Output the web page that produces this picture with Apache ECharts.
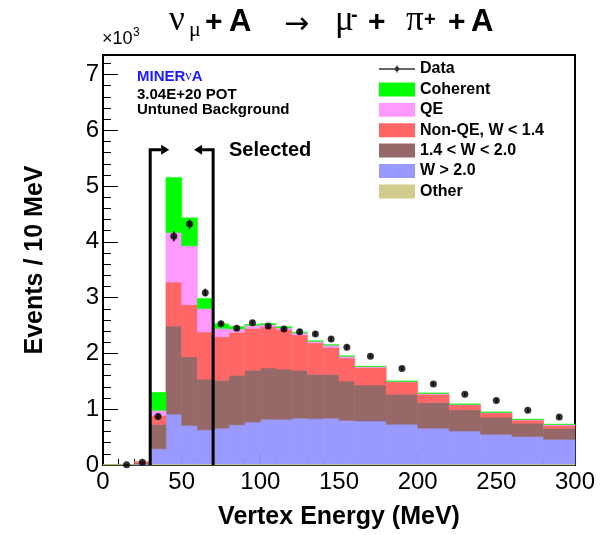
<!DOCTYPE html>
<html>
<head>
<meta charset="utf-8">
<script src="https://cdn.jsdelivr.net/npm/echarts@6/dist/echarts.min.js"></script>
<style>
html, body { margin: 0; padding: 0; background: #fff; }
#chart { width: 611px; height: 535px; }
</style>
</head>
<body>
<div id="chart"></div>
<script>
// bin edges in MeV (10 MeV bins up to 160, then 20 MeV bins)
var binEdges = [0, 10, 20, 30, 40, 50, 60, 70, 80, 90, 100, 110, 120, 130, 140, 150, 160,
                180, 200, 220, 240, 260, 280, 300];

// MC components, events / 10 MeV (x10^3), one value per bin
var other    = [0.01, 0.01, 0.01, 0.02, 0.02, 0.02, 0.02, 0.02, 0.02, 0.02, 0.02, 0.02, 0.02, 0.02, 0.02, 0.02, 0.02, 0.02, 0.02, 0.02, 0.02, 0.02, 0.02];
var wHigh    = [0, 0, 0.01, 0.27, 0.89, 0.69, 0.61, 0.64, 0.70, 0.75, 0.80, 0.80, 0.82, 0.81, 0.82, 0.78, 0.77, 0.71, 0.64, 0.59, 0.53, 0.49, 0.44];
var wMid     = [0, 0, 0.02, 0.44, 1.58, 1.23, 0.91, 0.86, 0.89, 0.93, 0.92, 0.90, 0.86, 0.795, 0.785, 0.705, 0.645, 0.54, 0.46, 0.38, 0.31, 0.24, 0.20];
var nonQE    = [0, 0, 0.02, 0.16, 0.79, 0.935, 0.845, 0.78, 0.77, 0.75, 0.74, 0.71, 0.63, 0.565, 0.485, 0.415, 0.315, 0.22, 0.15, 0.09, 0.075, 0.055, 0.05];
var qe       = [0, 0, 0, 0.09, 0.89, 1.055, 0.42, 0.15, 0.06, 0.055, 0.04, 0.03, 0.04, 0.03, 0.04, 0.03, 0.015, 0.01, 0.015, 0.01, 0.01, 0.01, 0.017];
var coherent = [0, 0, 0, 0.32, 0.985, 0.50, 0.18, 0.08, 0.04, 0.015, 0.015, 0.02, 0.01, 0.005, 0.005, 0.005, 0.005, 0.005, 0.005, 0.003, 0.003, 0.003, 0.003];

// data points
var dataX   = [15, 25, 35, 45, 55, 65, 75, 85, 95, 105, 115, 125, 135, 145, 155, 170, 190, 210, 230, 250, 270, 290];
var dataY   = [0.005, 0.05, 0.87, 4.10, 4.32, 3.09, 2.53, 2.45, 2.55, 2.49, 2.44, 2.39, 2.35, 2.26, 2.11, 1.95, 1.73, 1.45, 1.27, 1.155, 0.98, 0.86];
var dataErr = [0.01, 0.02, 0.05, 0.09, 0.09, 0.07, 0.04, 0.04, 0.04, 0.04, 0.04, 0.04, 0.04, 0.04, 0.04, 0.03, 0.03, 0.03, 0.03, 0.03, 0.03, 0.03];

// selection cuts
var selCuts = [30, 70];
var selArrowDir = [1, -1];
var selTop = 5.65;

var mcNames  = ['Other', 'W > 2.0', '1.4 < W < 2.0', 'Non-QE, W < 1.4', 'QE', 'Coherent'];
var mcColors = ['#d2cc8c', '#9999ff', '#966868', '#ff6666', '#ff99ff', '#00ff00'];
var mcParts  = [other, wHigh, wMid, nonQE, qe, coherent];

var chart = echarts.init(document.getElementById('chart'));

function renderBin(params, api) {
    if (api.value(3) - api.value(2) <= 0) return null;
    var p0 = api.coord([api.value(0), api.value(3)]);
    var p1 = api.coord([api.value(1), api.value(2)]);
    var c = api.visual('color');
    return {
        type: 'rect',
        shape: { x: p0[0], y: p0[1], width: p1[0] - p0[0], height: p1[1] - p0[1] },
        style: { fill: c, stroke: c, lineWidth: 0.6 }
    };
}

function renderErr(params, api) {
    var lo = api.coord([api.value(0), api.value(1) - api.value(2)]);
    var hi = api.coord([api.value(0), api.value(1) + api.value(2)]);
    return {
        type: 'line',
        shape: { x1: lo[0], y1: lo[1], x2: hi[0], y2: hi[1] },
        style: { stroke: '#000', lineWidth: 1.5 }
    };
}

function renderCut(params, api) {
    var bot = api.coord([api.value(0), 0]);
    var top = api.coord([api.value(0), api.value(1)]);
    var d = api.value(2);
    var hx = top[0] + d * 11;
    return {
        type: 'group',
        children: [{
            type: 'polyline',
            shape: { points: [[bot[0], bot[1]], [top[0], top[1]], [hx, top[1]]] },
            style: { stroke: '#000', lineWidth: 3, fill: 'none', lineJoin: 'miter' }
        }, {
            type: 'polygon',
            shape: { points: [[hx, top[1] - 5], [hx + d * 8, top[1]], [hx, top[1] + 5]] },
            style: { fill: '#000' }
        }]
    };
}

var series = [];
var base = binEdges.slice(1).map(function () { return 0; });
mcParts.forEach(function (part, k) {
    var rows = part.map(function (v, i) {
        var lo = base[i];
        base[i] += v;
        return [binEdges[i], binEdges[i + 1], lo, base[i]];
    });
    series.push({
        name: mcNames[k],
        type: 'custom',
        renderItem: renderBin,
        itemStyle: { color: mcColors[k] },
        encode: { x: [0, 1], y: [2, 3] },
        data: rows,
        z: 2
    });
});

series.push({
    name: 'cuts',
    type: 'custom',
    renderItem: renderCut,
    encode: { x: 0, y: 1 },
    data: selCuts.map(function (c, i) { return [c, selTop, selArrowDir[i]]; }),
    z: 3
});

series.push({
    name: 'errors',
    type: 'custom',
    renderItem: renderErr,
    encode: { x: 0, y: 1 },
    data: dataX.map(function (x, i) { return [x, dataY[i], dataErr[i]]; }),
    z: 4
});

series.push({
    name: 'Data',
    type: 'scatter',
    symbol: 'circle',
    symbolSize: 7,
    itemStyle: { color: '#000' },
    clip: false,
    data: dataX.map(function (x, i) { return [x, dataY[i]]; }),
    z: 5
});

var dataIcon = 'path://M0 2.8h36v1.4h-36z M17.3 0h1.4v7h-1.4z M18 1.2a2.3 2.3 0 1 1 0 4.6a2.3 2.3 0 1 1 0 -4.6z';

// title pieces: [text, font, x, y(middle)]
var SANS = 'Liberation Sans', SERIF = 'Liberation Serif';
var titleParts = [
    ['ν', '35px ' + SERIF, 169, 21.2],
    ['μ', '22px ' + SERIF, 189, 30.6],
    ['+', 'bold 30px ' + SANS, 205, 22.5],
    ['A', 'bold 31px ' + SANS, 229, 22.2],
    ['→', '30px DejaVu Sans', 284, 25],
    ['μ', '35px ' + SERIF, 335, 21.2],
    ['-', 'bold 20px ' + SANS, 351, 15.8],
    ['+', 'bold 30px ' + SANS, 368, 22.5],
    ['π', '35px ' + SERIF, 406, 21.2],
    ['+', 'bold 20px ' + SANS, 424, 20.8],
    ['+', 'bold 30px ' + SANS, 448, 22.5],
    ['A', 'bold 31px ' + SANS, 471, 22.2]
];
var titleGraphics = titleParts.map(function (p) {
    return {
        type: 'text', x: p[2], y: p[3],
        style: { text: p[0], font: p[1], fill: '#000', textAlign: 'left', textVerticalAlign: 'middle' }
    };
});

var option = {
    backgroundColor: '#ffffff',
    animation: false,
    legend: {
        orient: 'vertical',
        left: 379,
        top: 61,
        padding: 0,
        itemWidth: 36,
        itemHeight: 14,
        itemGap: 4.4,
        selectedMode: false,
        textStyle: { fontFamily: SANS, fontWeight: 'bold', fontSize: 16, lineHeight: 16, color: '#000' },
        data: [
            { name: 'Data', icon: dataIcon },
            { name: 'Coherent', icon: 'rect' },
            { name: 'QE', icon: 'rect' },
            { name: 'Non-QE, W < 1.4', icon: 'rect' },
            { name: '1.4 < W < 2.0', icon: 'rect' },
            { name: 'W > 2.0', icon: 'rect' },
            { name: 'Other', icon: 'rect' }
        ]
    },
    grid: {
        left: 103, right: 36, top: 55, bottom: 69,
        show: true, borderColor: '#000', borderWidth: 2, backgroundColor: 'transparent'
    },
    xAxis: {
        type: 'value',
        min: 0, max: 300, interval: 50,
        name: 'Vertex Energy (MeV)',
        nameLocation: 'middle',
        nameGap: 40,
        nameTextStyle: { fontFamily: SANS, fontWeight: 'bold', fontSize: 25, color: '#000' },
        axisLine: { show: true, lineStyle: { color: '#000', width: 2 } },
        axisTick: { show: true, inside: true, length: 12, lineStyle: { color: '#000', width: 1 } },
        minorTick: { show: true, splitNumber: 5, length: 6, lineStyle: { color: '#000', width: 1 } },
        splitLine: { show: false },
        axisLabel: { fontFamily: SANS, fontSize: 24, color: '#000', margin: 5 }
    },
    yAxis: {
        type: 'value',
        min: 0, max: 7.35, interval: 1,
        name: 'Events / 10 MeV',
        nameLocation: 'middle',
        nameGap: 55,
        nameTextStyle: { fontFamily: SANS, fontWeight: 'bold', fontSize: 25, color: '#000' },
        axisLine: { show: true, lineStyle: { color: '#000', width: 2 } },
        axisTick: { show: true, inside: true, length: 15, lineStyle: { color: '#000', width: 1 } },
        minorTick: { show: true, splitNumber: 5, length: 8, lineStyle: { color: '#000', width: 1 } },
        splitLine: { show: false },
        axisLabel: {
            fontFamily: SANS, fontSize: 24, color: '#000', margin: 4,
            formatter: function (v) { return Math.abs(v - Math.round(v)) < 1e-6 ? String(Math.round(v)) : ''; }
        }
    },
    graphic: titleGraphics.concat([
        { type: 'text', x: 102, y: 38.8, style: { text: '×10', font: '18px ' + SANS, fill: '#000', textVerticalAlign: 'middle' } },
        { type: 'text', x: 133, y: 32.5, style: { text: '3', font: '12px ' + SANS, fill: '#000', textVerticalAlign: 'middle' } },
        {
            type: 'text', left: 137, top: 69,
            style: {
                text: '{m|MINER}{n|ν}{m|A}',
                rich: {
                    m: { fontFamily: SANS, fontWeight: 'bold', fontSize: 15, fill: '#1a1aff', color: '#1a1aff' },
                    n: { fontFamily: SERIF, fontSize: 14, fill: '#1a1aff', color: '#1a1aff' }
                }
            }
        },
        { type: 'text', left: 137, top: 87, style: { text: '3.04E+20 POT', font: 'bold 15px ' + SANS, fill: '#000' } },
        { type: 'text', left: 137, top: 102, style: { text: 'Untuned Background', font: 'bold 15px ' + SANS, fill: '#000' } },
        { type: 'text', left: 229, top: 140, style: { text: 'Selected', font: 'bold 20px ' + SANS, fill: '#000' } }
    ]),
    series: series
};

chart.setOption(option);
</script>
</body>
</html>
